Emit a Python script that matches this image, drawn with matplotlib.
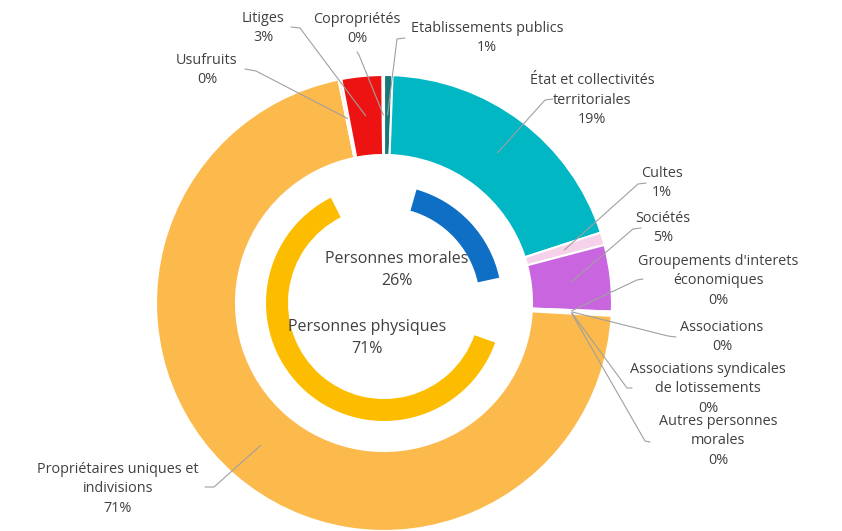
import matplotlib
matplotlib.use("Agg")
import matplotlib.pyplot as plt
from matplotlib.patches import Wedge
import numpy as np

# ---------------- data ----------------
outer_labels = [
    "Etablissements publics",
    "État et collectivités\nterritoriales",
    "Cultes",
    "Sociétés",
    "Groupements d'interets\néconomiques",
    "Associations",
    "Associations syndicales\nde lotissements",
    "Autres personnes\nmorales",
    "Propriétaires uniques et\nindivisions",
    "Usufruits",
    "Litiges",
    "Copropriétés",
]
outer_values = [0.6, 19.4, 0.9, 4.7, 0.1, 0.1, 0.05, 0.05, 70.9, 0.2, 2.9, 0.1]
outer_pct = ["1%", "19%", "1%", "5%", "0%", "0%", "0%", "0%", "71%", "0%", "3%", "0%"]

inner_labels = ["Personnes morales", "Personnes physiques", "Autres"]
inner_values = [26, 71, 3]
inner_pct = ["26%", "71%", ""]

# ---------------- style / layout ----------------
outer_colors = ["#17787a", "#00b7c3", "#f6d2ea", "#c865df", "#7f6084", "#a5a5a5",
                "#4f81bd", "#9bbb59", "#fcb94c", "#fde6b8", "#ee1313", "#8c1a1a"]
inner_colors = ["#0f6fc4", "#fcbd00", "none"]
text_color = "#404040"
line_color = "#a0a0a0"
FONT = "Open Sans"
FS = 10.4

W, H = 842, 531
CX, CY = 384, 303          # pixel coordinates of the donut centre
R_OUT, W_OUT = 228, 80
R_IN, W_IN = 118, 22
PAD = 16                   # angular gap of inner ring arcs (degrees)


def P(x, y):
    """pixel (y down) -> data (y up)"""
    return x, H - y


# text block centre, leader start, leader knee (pixel coords)
outer_layout = [
    ((487, 38), (405, 38), (397, 39)),
    ((592, 100), (553, 99), (545, 100)),
    ((662, 183), (646, 183), (638, 184)),
    ((663, 228), (641, 228), (633, 229)),
    ((718, 281), (643, 279), (637, 280)),
    ((722, 337), (676, 337), (668, 336)),
    ((708, 389), (632, 388), (627, 388)),
    ((718, 441), (650, 442), (645, 441)),
    ((118, 489), (205, 487), (214, 487)),
    ((207, 70), (245, 69), (256, 71)),
    ((263, 28), (291, 27), (300, 28)),
    ((357, 29), (357, 52), (359, 55)),
]
inner_text_pos = [(397, 270), (367, 338)]

fig = plt.figure(figsize=(W / 100, H / 100), dpi=100)
ax = fig.add_axes([0, 0, 1, 1])

cx, cy = P(CX, CY)
ax.pie(outer_values, radius=R_OUT, center=(cx, cy), startangle=90,
       counterclock=False, colors=outer_colors,
       wedgeprops=dict(width=W_OUT, edgecolor="white", linewidth=1.5))

# inner ring (padded arcs)
tot = float(sum(inner_values))
cum = 0.0
for v, c in zip(inner_values, inner_colors):
    a1 = 360 * cum / tot
    a2 = 360 * (cum + v) / tot
    cum += v
    if c == "none":
        continue
    w = Wedge((cx, cy), R_IN, 90 - (a2 - PAD), 90 - (a1 + PAD), width=W_IN,
              facecolor=c, edgecolor="none")
    ax.add_patch(w)

for (tx, ty), lab, pct in zip(inner_text_pos, inner_labels, inner_pct):
    x, y = P(tx, ty)
    ax.text(x, y, lab + "\n" + pct, ha="center", va="center", fontsize=11.5,
            color=text_color, family=FONT, linespacing=1.45)

# outer labels + leader lines
tot = float(sum(outer_values))
cum = np.cumsum(outer_values)
r_mid = R_OUT - W_OUT / 2
for i, (lab, pct) in enumerate(zip(outer_labels, outer_pct)):
    mid = 360 * (cum[i] - outer_values[i] / 2) / tot
    ex = cx + r_mid * np.sin(np.radians(mid))
    ey = cy + r_mid * np.cos(np.radians(mid))
    (tx, ty), s, k = outer_layout[i]
    sx, sy = P(*s)
    kx, ky = P(*k)
    ax.plot([sx, kx, ex], [sy, ky, ey], color=line_color, lw=0.8,
            solid_capstyle="round", zorder=3)
    x, y = P(tx, ty)
    ax.text(x, y, lab + "\n" + pct, ha="center", va="center", fontsize=FS,
            color=text_color, family=FONT, linespacing=1.45, zorder=4)

ax.set_xlim(0, W)
ax.set_ylim(0, H)
ax.set_aspect("auto")
ax.axis("off")
fig.savefig("out.png", dpi=100, facecolor="white")
